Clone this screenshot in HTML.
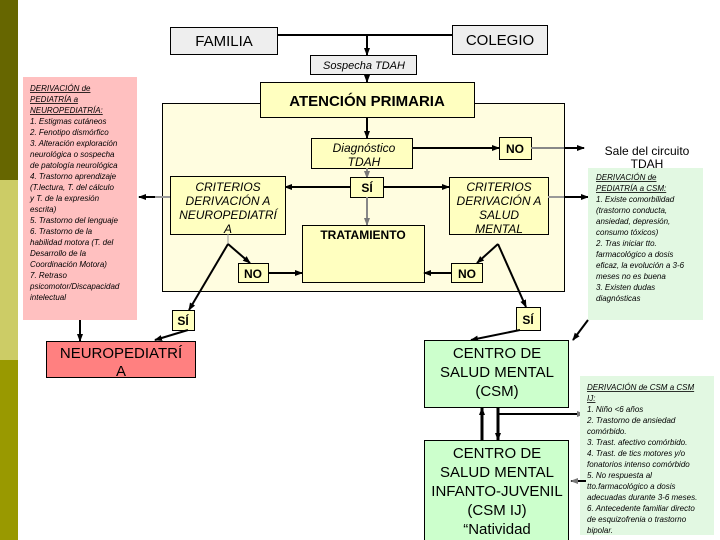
<!DOCTYPE html>
<html><head><meta charset="utf-8"><style>
body{margin:0;width:720px;height:540px;overflow:hidden;background:#fff;font-family:"Liberation Sans",sans-serif}
svg{display:block}
</style></head><body>
<svg width="720" height="540" viewBox="0 0 720 540" xmlns="http://www.w3.org/2000/svg" font-family="Liberation Sans, sans-serif">
<defs>
<marker id="a" markerWidth="8" markerHeight="8" refX="7" refY="4" orient="auto" markerUnits="userSpaceOnUse"><path d="M0,1 L8,4 L0,7z" fill="#000"/></marker>
<marker id="g" markerWidth="8" markerHeight="8" refX="7" refY="4" orient="auto" markerUnits="userSpaceOnUse"><path d="M0,1 L8,4 L0,7z" fill="#777"/></marker>
<linearGradient id="lg" x1="0" x2="1"><stop offset="0" stop-color="#c87a3a"/><stop offset="0.35" stop-color="#8a8a20"/><stop offset="0.6" stop-color="#d8d890"/><stop offset="1" stop-color="#a0a030"/></linearGradient>
</defs>
<rect x="0" y="0" width="18" height="180" fill="#666600"/>
<rect x="0" y="180" width="18" height="180" fill="#cccc66"/>
<rect x="0" y="360" width="18" height="180" fill="#999900"/>
<rect x="162.5" y="103.5" width="402" height="188" fill="#fffde0" stroke="#000"/>
<line x1="28" y1="114" x2="672" y2="114" stroke="url(#lg)" stroke-width="4"/>
<line x1="277" y1="35" x2="452" y2="35" stroke="#000" stroke-width="2"/>
<line x1="367" y1="35" x2="367" y2="55" stroke="#000" stroke-width="2" marker-end="url(#a)"/>
<line x1="367" y1="74" x2="367" y2="82" stroke="#000" stroke-width="2" marker-end="url(#a)"/>
<rect x="170.5" y="27.5" width="107" height="27" fill="#eee" stroke="#000"/>
<text x="224" y="46" font-size="15" text-anchor="middle">FAMILIA</text>
<rect x="452.5" y="25.5" width="95" height="29" fill="#eee" stroke="#000"/>
<text x="500" y="45" font-size="15" text-anchor="middle">COLEGIO</text>
<rect x="310.5" y="55.5" width="106" height="19" fill="#eee" stroke="#000"/>
<text x="364" y="69" font-size="11" font-style="italic" text-anchor="middle">Sospecha TDAH</text>
<rect x="260.5" y="82.5" width="214" height="35" fill="#ffffc0" stroke="#000"/>
<text x="367" y="106" font-size="15" text-anchor="middle" font-weight="bold">ATENCIÓN PRIMARIA</text>
<line x1="367" y1="118" x2="367" y2="138" stroke="#000" stroke-width="2" marker-end="url(#a)"/>
<rect x="23" y="77" width="114" height="243" fill="#ffc0c0"/>
<g font-size="8" font-style="italic" fill="#000">
<text x="30" y="91" text-decoration="underline">DERIVACIÓN de</text>
<text x="30" y="102" text-decoration="underline">PEDIATRÍA a</text>
<text x="30" y="113" text-decoration="underline">NEUROPEDIATRÍA:</text>
<text x="30" y="124">1. Estigmas cutáneos</text>
<text x="30" y="135">2. Fenotipo dismórfico</text>
<text x="30" y="146">3. Alteración exploración</text>
<text x="30" y="157">neurológica o sospecha</text>
<text x="30" y="168">de patología neurológica</text>
<text x="30" y="179">4. Trastorno aprendizaje</text>
<text x="30" y="190">(T.lectura, T. del cálculo</text>
<text x="30" y="201">y T. de la expresión</text>
<text x="30" y="212">escrita)</text>
<text x="30" y="223">5. Trastorno del lenguaje</text>
<text x="30" y="234">6. Trastorno de la</text>
<text x="30" y="245">habilidad motora (T. del</text>
<text x="30" y="256">Desarrollo de la</text>
<text x="30" y="267">Coordinación Motora)</text>
<text x="30" y="278">7. Retraso</text>
<text x="30" y="289">psicomotor/Discapacidad</text>
<text x="30" y="300">intelectual</text>
</g>
<rect x="311.5" y="138.5" width="101" height="30" fill="#ffffc0" stroke="#000"/>
<text x="364" y="152" font-size="12" font-style="italic" text-anchor="middle">Diagnóstico</text>
<text x="364" y="166" font-size="12" font-style="italic" text-anchor="middle">TDAH</text>
<line x1="412" y1="148" x2="499" y2="148" stroke="#000" stroke-width="2" marker-end="url(#a)"/>
<rect x="499.5" y="137.5" width="32" height="22" fill="#ffffc0" stroke="#000"/>
<text x="515" y="153" font-size="12" font-weight="bold" text-anchor="middle">NO</text>
<line x1="531" y1="148" x2="564" y2="148" stroke="#888" stroke-width="2"/>
<line x1="564" y1="148" x2="584" y2="148" stroke="#000" stroke-width="2" marker-end="url(#a)"/>
<text x="647" y="155" font-size="12" text-anchor="middle">Sale del circuito</text>
<text x="647" y="168" font-size="12" text-anchor="middle">TDAH</text>
<line x1="367" y1="168" x2="367" y2="178" stroke="#888" stroke-width="2" marker-end="url(#g)"/>
<rect x="350.5" y="177.5" width="33" height="20" fill="#ffffc0" stroke="#000"/>
<text x="367" y="192" font-size="12" font-weight="bold" text-anchor="middle">SÍ</text>
<line x1="384" y1="187" x2="449" y2="187" stroke="#000" stroke-width="2" marker-end="url(#a)"/>
<line x1="350" y1="187" x2="285" y2="187" stroke="#000" stroke-width="2" marker-end="url(#a)"/>
<line x1="367" y1="197" x2="367" y2="225" stroke="#888" stroke-width="2" marker-end="url(#g)"/>
<rect x="170.5" y="176.5" width="115" height="58" fill="#ffffc0" stroke="#000"/>
<g font-size="12" font-style="italic" text-anchor="middle"><text x="228" y="191">CRITERIOS</text><text x="228" y="205">DERIVACIÓN A</text><text x="228" y="219">NEUROPEDIATRÍ</text><text x="228" y="233">A</text></g>
<rect x="449.5" y="177.5" width="99" height="57" fill="#ffffc0" stroke="#000"/>
<g font-size="12" font-style="italic" text-anchor="middle"><text x="499" y="191">CRITERIOS</text><text x="499" y="205">DERIVACIÓN A</text><text x="499" y="219">SALUD</text><text x="499" y="233">MENTAL</text></g>
<line x1="170" y1="197" x2="155" y2="197" stroke="#999" stroke-width="2"/>
<line x1="155" y1="197" x2="139" y2="197" stroke="#000" stroke-width="2" marker-end="url(#a)"/>
<line x1="548" y1="197" x2="564" y2="197" stroke="#999" stroke-width="2"/>
<line x1="564" y1="197" x2="588" y2="197" stroke="#000" stroke-width="2" marker-end="url(#a)"/>
<rect x="302.5" y="225.5" width="122" height="57" fill="#ffffc0" stroke="#000"/>
<text x="363" y="239" font-size="12" font-weight="bold" text-anchor="middle">TRATAMIENTO</text>
<line x1="228" y1="234" x2="228" y2="244" stroke="#999" stroke-width="1"/>
<line x1="228" y1="244" x2="250" y2="263" stroke="#000" stroke-width="2" marker-end="url(#a)"/>
<line x1="228" y1="244" x2="189" y2="310" stroke="#000" stroke-width="2" marker-end="url(#a)"/>
<rect x="238.5" y="263.5" width="30" height="19" fill="#ffffc0" stroke="#000"/>
<text x="253" y="278" font-size="12" font-weight="bold" text-anchor="middle">NO</text>
<line x1="268" y1="273" x2="302" y2="273" stroke="#000" stroke-width="2" marker-end="url(#a)"/>
<line x1="498" y1="244" x2="477" y2="263" stroke="#000" stroke-width="2" marker-end="url(#a)"/>
<line x1="498" y1="244" x2="526" y2="307" stroke="#000" stroke-width="2" marker-end="url(#a)"/>
<rect x="451.5" y="263.5" width="31" height="19" fill="#ffffc0" stroke="#000"/>
<text x="467" y="278" font-size="12" font-weight="bold" text-anchor="middle">NO</text>
<line x1="451" y1="273" x2="424" y2="273" stroke="#000" stroke-width="2" marker-end="url(#a)"/>
<rect x="172.5" y="310.5" width="22" height="20" fill="#ffffc0" stroke="#000"/>
<text x="183" y="325" font-size="12" font-weight="bold" text-anchor="middle">SÍ</text>
<rect x="516.5" y="307.5" width="24" height="23" fill="#ffffc0" stroke="#000"/>
<text x="528" y="324" font-size="12" font-weight="bold" text-anchor="middle">SÍ</text>
<line x1="80" y1="320" x2="80" y2="341" stroke="#000" stroke-width="2" marker-end="url(#a)"/>
<line x1="188" y1="330" x2="155" y2="340" stroke="#000" stroke-width="2" marker-end="url(#a)"/>
<rect x="46.5" y="341.5" width="149" height="36" fill="#ff8080" stroke="#000"/>
<text x="121" y="358" font-size="15" text-anchor="middle">NEUROPEDIATRÍ</text>
<text x="121" y="376" font-size="15" text-anchor="middle">A</text>
<rect x="588" y="168" width="115" height="152" fill="#e2f8e2"/>
<g font-size="8" font-style="italic"><text x="596" y="180" text-decoration="underline">DERIVACIÓN de</text>
<text x="596" y="191" text-decoration="underline">PEDIATRÍA a  CSM:</text>
<text x="596" y="202">1. Existe comorbilidad</text>
<text x="596" y="213">(trastorno conducta,</text>
<text x="596" y="224">ansiedad, depresión,</text>
<text x="596" y="235">consumo tóxicos)</text>
<text x="596" y="246">2. Tras iniciar tto.</text>
<text x="596" y="257">farmacológico a dosis</text>
<text x="596" y="268">eficaz, la evolución a  3-6</text>
<text x="596" y="279">meses no es buena</text>
<text x="596" y="290">3. Existen dudas</text>
<text x="596" y="301">diagnósticas</text></g>
<line x1="520" y1="330" x2="471" y2="340" stroke="#000" stroke-width="2" marker-end="url(#a)"/>
<line x1="588" y1="320" x2="573" y2="340" stroke="#000" stroke-width="2" marker-end="url(#a)"/>
<rect x="424.5" y="340.5" width="144" height="67" fill="#ccffcc" stroke="#000"/>
<g font-size="15" text-anchor="middle"><text x="497" y="358">CENTRO DE</text><text x="497" y="377">SALUD MENTAL</text><text x="497" y="396">(CSM)</text></g>
<line x1="482" y1="440" x2="482" y2="408" stroke="#000" stroke-width="3" marker-end="url(#a)"/>
<line x1="498" y1="407" x2="498" y2="440" stroke="#000" stroke-width="3" marker-end="url(#a)"/>
<line x1="498" y1="414" x2="584" y2="414" stroke="#000" stroke-width="2" marker-end="url(#g)"/>
<rect x="424.5" y="440.5" width="144" height="102" fill="#ccffcc" stroke="#000"/>
<g font-size="15" text-anchor="middle"><text x="497" y="458">CENTRO DE</text><text x="497" y="477">SALUD MENTAL</text><text x="497" y="496">INFANTO-JUVENIL</text><text x="497" y="515">(CSM IJ)</text><text x="497" y="534">“Natividad</text></g>
<rect x="580" y="376" width="134" height="159" fill="#e2f8e2"/>
<line x1="586" y1="481" x2="571" y2="481" stroke="#000" stroke-width="2" marker-end="url(#g)"/>
<g font-size="8" font-style="italic"><text x="587" y="390" text-decoration="underline">DERIVACIÓN de CSM a CSM</text>
<text x="587" y="401" text-decoration="underline">IJ:</text>
<text x="587" y="412">1. Niño  &lt;6 años</text>
<text x="587" y="423">2. Trastorno de ansiedad</text>
<text x="587" y="434">comórbido.</text>
<text x="587" y="445">3. Trast. afectivo comórbido.</text>
<text x="587" y="456">4. Trast. de tics motores y/o</text>
<text x="587" y="467">fonatorios intenso comórbido</text>
<text x="587" y="478">5. No respuesta al</text>
<text x="587" y="489">tto.farmacológico a dosis</text>
<text x="587" y="500">adecuadas durante 3-6 meses.</text>
<text x="587" y="511">6. Antecedente familiar directo</text>
<text x="587" y="522">de esquizofrenia o trastorno</text>
<text x="587" y="533">bipolar.</text></g>
</svg>
</body></html>
